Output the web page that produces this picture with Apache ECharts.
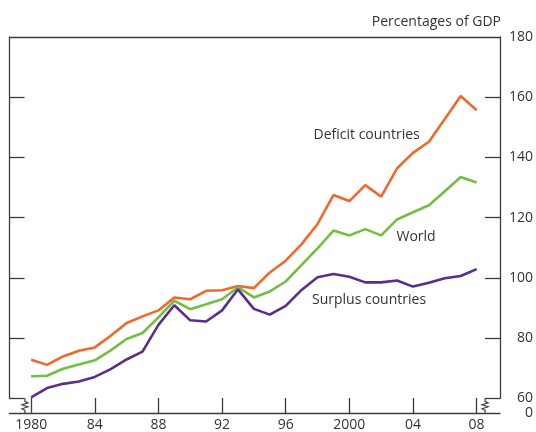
<!DOCTYPE html>
<html><head><meta charset="utf-8">
<script src="https://cdn.jsdelivr.net/npm/echarts@6/dist/echarts.min.js"></script>
<style>html,body{margin:0;padding:0;background:#fff}#c{width:536px;height:432px}</style>
</head><body><div id="c"></div>
<script>
const years = [1980,1981,1982,1983,1984,1985,1986,1987,1988,1989,1990,1991,1992,1993,1994,1995,1996,1997,1998,1999,2000,2001,2002,2003,2004,2005,2006,2007,2008];
const deficit = [72.8,71.1,73.9,75.8,76.9,80.8,85.0,87.2,89.2,93.5,92.9,95.7,95.9,97.3,96.6,101.8,105.7,111.2,117.9,127.5,125.5,130.8,127.0,136.4,141.5,145.2,152.8,160.4,155.7];
const world = [67.3,67.5,69.8,71.2,72.6,75.9,79.7,81.7,86.9,92.4,89.6,91.2,92.9,96.9,93.5,95.5,98.8,104.3,109.8,115.7,114.1,116.2,114.1,119.4,121.8,124.1,128.8,133.5,131.7];
const surplus = [60.3,63.4,64.8,65.6,67.1,69.7,72.9,75.5,84.4,90.9,85.9,85.5,89.2,96.2,89.7,87.8,90.7,96.0,100.2,101.3,100.4,98.5,98.5,99.1,97.1,98.4,99.9,100.6,102.9];
const xTickValues = [1980,1984,1988,1992,1996,2000,2004,2008];
const xTickLabels = ['1980','84','88','92','96','2000','04','08'];
const yTickValues = [60,80,100,120,140,160,180];
const seriesNames = ['Deficit countries','World','Surplus countries'];

const FONT = "'Open Sans', 'Noto Sans', sans-serif";
const TXT = '#333333';
const AX = '#3c3c3c';
const xMin = 1978.64, xMax = 2009.47;

const chart = echarts.init(document.getElementById('c'), null, {renderer:'canvas'});
const lbl = {fontFamily: FONT, fontSize: 14, color: TXT};
const option = {
  animation: false,
  backgroundColor: '#fff',
  grid: [
    {left: 9.5, right: 36, top: 37, bottom: 33.7},
    {left: 9.5, right: 36, top: 398.3, bottom: 19}
  ],
  xAxis: [
    {gridIndex: 0, type: 'value', min: xMin, max: xMax, position: 'top',
     axisLine: {show: true, lineStyle: {color: AX, width: 1.3}},
     axisTick: {show: false}, axisLabel: {show: false}, splitLine: {show: false}},
    {gridIndex: 1, type: 'value', min: xMin, max: xMax, position: 'bottom',
     axisLine: {show: true, lineStyle: {color: AX, width: 1.3}},
     axisTick: {show: true, inside: true, length: 15, customValues: xTickValues, lineStyle: {color: AX, width: 1.3}},
     axisLabel: Object.assign({show: true, margin: 5, customValues: xTickValues,
       formatter: v => xTickLabels[xTickValues.indexOf(Math.round(v))]}, lbl),
     splitLine: {show: false}}
  ],
  yAxis: [
    {gridIndex: 0, type: 'value', min: 60, max: 180, position: 'left',
     axisLine: {show: true, lineStyle: {color: AX, width: 1.3}},
     axisTick: {show: true, inside: true, length: 15, customValues: yTickValues.slice(0, -1), lineStyle: {color: AX, width: 1.3}},
     axisLabel: {show: false}, splitLine: {show: false}},
    {gridIndex: 0, type: 'value', min: 60, max: 180, position: 'right',
     axisLine: {show: true, lineStyle: {color: AX, width: 1.3}},
     axisTick: {show: true, inside: true, length: 15, customValues: yTickValues.slice(0, -1), lineStyle: {color: AX, width: 1.3}},
     axisLabel: Object.assign({show: true, inside: false, margin: 33, align: 'right', customValues: yTickValues}, lbl),
     splitLine: {show: false}},
    {gridIndex: 1, type: 'value', min: 0, max: 1, position: 'right',
     axisLine: {show: false}, axisTick: {show: false},
     axisLabel: Object.assign({show: true, margin: 33, align: 'right', customValues: [0]}, lbl),
     splitLine: {show: false}}
  ],
  series: [
    {name: seriesNames[0], type: 'line', xAxisIndex: 0, yAxisIndex: 0, symbol: 'none',
     lineStyle: {color: '#F2682A', width: 2.6}, data: years.map((y, i) => [y, deficit[i]])},
    {name: seriesNames[1], type: 'line', xAxisIndex: 0, yAxisIndex: 0, symbol: 'none',
     lineStyle: {color: '#72BF44', width: 2.6}, data: years.map((y, i) => [y, world[i]])},
    {name: seriesNames[2], type: 'line', xAxisIndex: 0, yAxisIndex: 0, symbol: 'none',
     lineStyle: {color: '#5A2D91', width: 2.6}, data: years.map((y, i) => [y, surplus[i]])}
  ]
};
chart.setOption(option);

// Decorations: break marks, annotations, unit label
const yTop = chart.convertToPixel({yAxisIndex: 0}, 60);
const yBot = chart.convertToPixel({yAxisIndex: 2}, 0);
function brk(xv) {
  const x = chart.convertToPixel({xAxisIndex: 1}, xv);
  const pts = [[x, yTop], [x, yTop + 3], [x + 3, yTop + 4.5], [x - 3, yTop + 6.5], [x + 3, yTop + 8.5], [x - 3, yTop + 10.5], [x, yTop + 12], [x, yBot]];
  return {type: 'polyline', shape: {points: pts}, style: {stroke: AX, lineWidth: 1.2, fill: null}, z: 10};
}
function txt(text, x, y, align) {
  return {type: 'text', x: x, y: y, style: {text: text, fontFamily: FONT, fontSize: 14, fill: TXT, align: align || 'left', verticalAlign: 'middle'}, z: 10};
}
chart.setOption({
  graphic: [
    brk(1979.61),
    brk(2008.53),
    txt('Percentages of GDP', 501, 22, 'right'),
    txt(seriesNames[0], 313.5, 135),
    txt(seriesNames[1], 396.5, 237),
    txt(seriesNames[2], 312, 300)
  ]
});
</script>
</body></html>
